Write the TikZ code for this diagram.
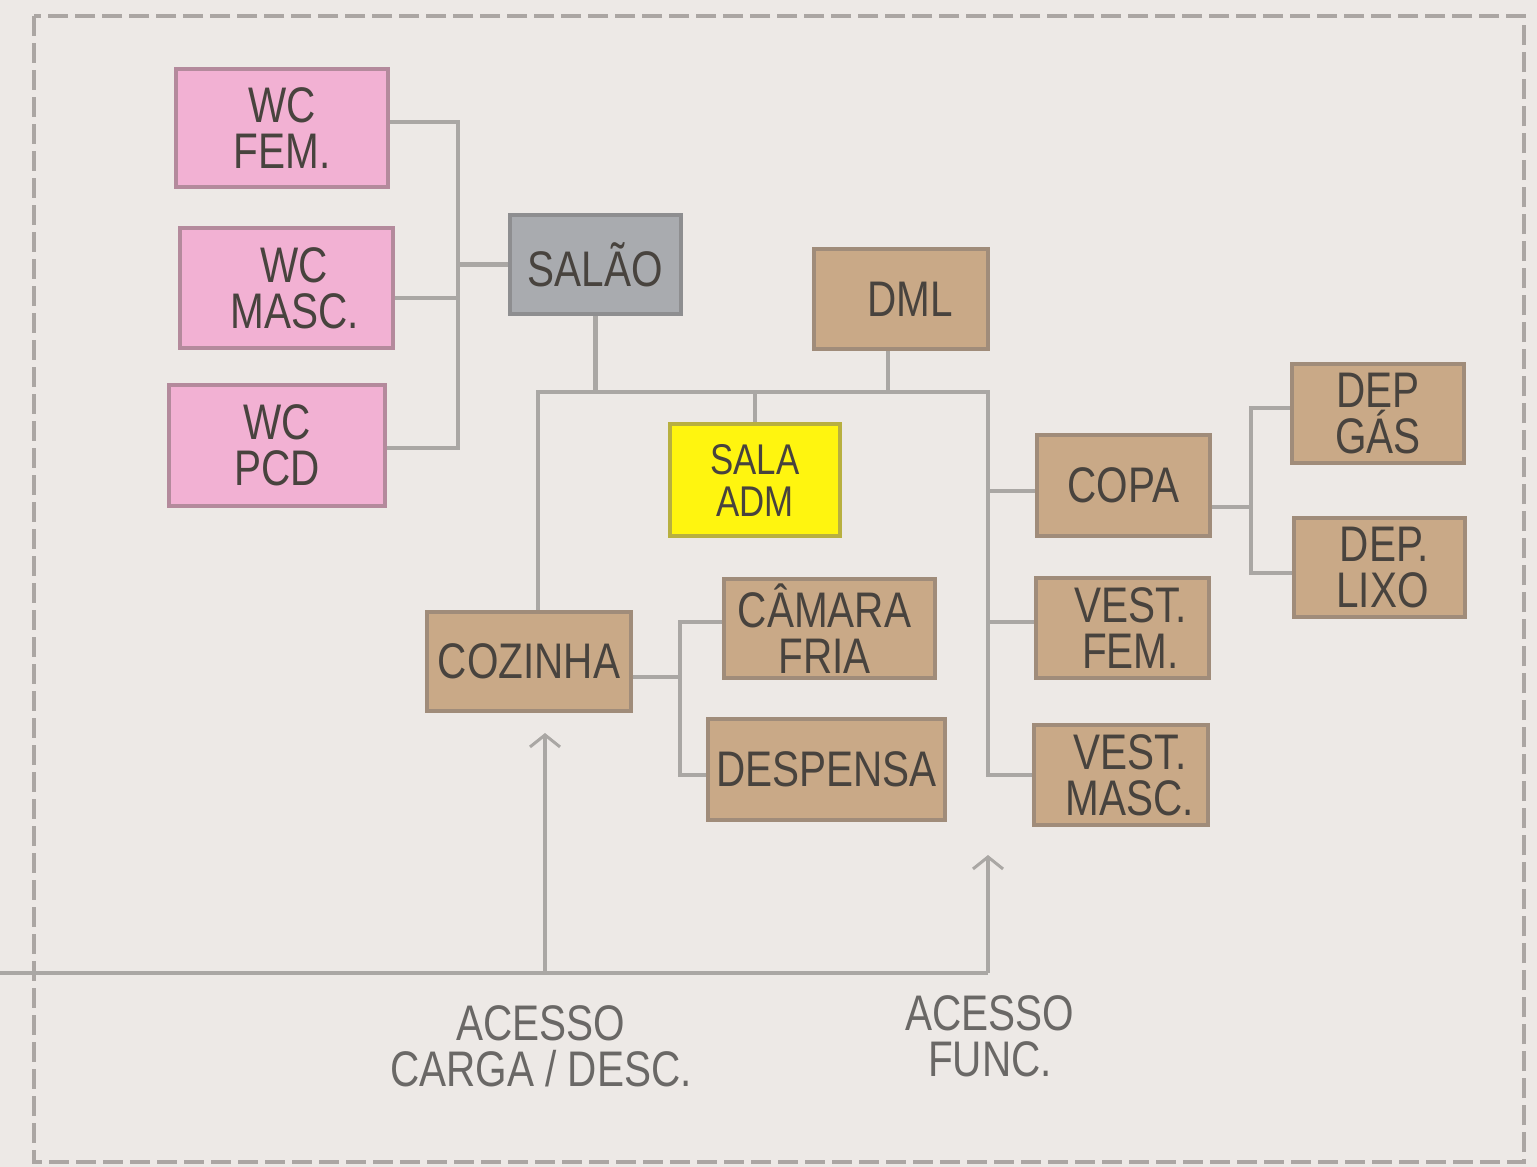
\documentclass[tikz,border=0pt]{standalone}
\usepackage{fontspec}
\setmainfont[FakeStretch=0.81]{Liberation Sans}
\usetikzlibrary{arrows.meta}
\definecolor{bgc}{HTML}{EDE9E6}
\definecolor{borderc}{HTML}{ABA6A3}
\definecolor{connc}{HTML}{AAA7A4}
\definecolor{pinkF}{HTML}{F2B1D3}
\definecolor{pinkD}{HTML}{B48A9C}
\definecolor{grayF}{HTML}{A9ABAF}
\definecolor{grayD}{HTML}{8E8E90}
\definecolor{tanF}{HTML}{C9A987}
\definecolor{tanD}{HTML}{A08C7A}
\definecolor{yelF}{HTML}{FFF50F}
\definecolor{yelD}{HTML}{B8B040}
\definecolor{txtc}{HTML}{48433E}
\definecolor{lblc}{HTML}{6A6866}
\newcommand{\pre}[1]{\hspace*{#1}}
\begin{document}
\begin{tikzpicture}[x=1pt,y=-1pt,
  room/.style={draw, line width=4pt, inner sep=0pt, align=center,
    font=\fontsize{50}{46}\selectfont, text=txtc},
  pinkroom/.style={room, fill=pinkF, draw=pinkD},
  grayroom/.style={room, fill=grayF, draw=grayD},
  tanroom/.style={room, fill=tanF, draw=tanD},
  yelroom/.style={room, fill=yelF, draw=yelD},
  conn/.style={draw=connc, line width=4.5pt},
  accarrow/.style={conn, -{Straight Barb[length=12pt,width=30pt,line width=3pt]}},
  lbl/.style={align=center, text=lblc, font=\fontsize{50}{46}\selectfont}]
\fill[bgc] (0,0) rectangle (1537,1167);
\useasboundingbox (0,0) rectangle (1537,1167);
\draw[borderc, line width=4pt, dash pattern=on 20pt off 7pt] (34,16) rectangle (1524,1162);

% rooms
\node[pinkroom, minimum width=212pt, minimum height=118pt] (wcfem) at (282,128) {WC\\FEM.};
\node[pinkroom, minimum width=213pt, minimum height=120pt] (wcmasc) at (286.5,288) {\pre{16pt}WC\\\pre{16pt}MASC.};
\node[pinkroom, minimum width=216pt, minimum height=121pt] (wcpcd) at (277,445.5) {WC\\PCD};
\node[grayroom, minimum width=171pt, minimum height=99pt] (salao) at (595.5,264.5) {SALÃO};
\node[tanroom, minimum width=174pt, minimum height=100pt] (dml) at (901,299) {\pre{18pt}DML};
\node[yelroom, minimum width=170pt, minimum height=112pt, font=\fontsize{43}{42}\selectfont] (sala) at (755,480) {SALA\\ADM};
\node[tanroom, minimum width=204pt, minimum height=99pt] (cozinha) at (529,661.5) {COZINHA};
\node[tanroom, minimum width=211pt, minimum height=99pt] (camara) at (829.5,628.5) {CÂMARA\pre{10pt}\\FRIA\pre{10pt}};
\node[tanroom, minimum width=237pt, minimum height=101pt] (despensa) at (826.5,769.5) {DESPENSA};
\node[tanroom, minimum width=173pt, minimum height=101pt] (copa) at (1123.5,485.5) {COPA};
\node[tanroom, minimum width=173pt, minimum height=100pt] (vestfem) at (1122.5,628) {\pre{16pt}VEST.\\\pre{16pt}FEM.};
\node[tanroom, minimum width=174pt, minimum height=100pt] (vestmasc) at (1121,775) {\pre{18pt}VEST.\\\pre{18pt}MASC.};
\node[tanroom, minimum width=172pt, minimum height=99pt] (depgas) at (1378,413.5) {DEP\\GÁS};
\node[tanroom, minimum width=171pt, minimum height=99pt] (deplixo) at (1379.5,567.5) {\pre{10pt}DEP.\\\pre{6pt}LIXO};

% junction coordinates
\coordinate (busWC) at (458,264.5);
\coordinate (kl) at (538,392);
\coordinate (kr) at (988,392);
\coordinate (cp) at (1251,507);
\coordinate (ck) at (680,677);
\coordinate (start) at (0,973);
\coordinate (acc1) at (545,973);
\coordinate (acc2) at (988,973);
\coordinate (tip1) at (545,733);
\coordinate (tip2) at (988,855);

% WC bus
\draw[conn] ([yshift=6pt]wcfem.east) -| (busWC);
\draw[conn] ([yshift=-2.5pt]wcpcd.east) -| (busWC);
\draw[conn] ([yshift=-10pt]wcmasc.east) -- ([yshift=-10pt]wcmasc.east -| busWC);
\draw[conn] (busWC) -- (salao.west);
% central bus
\draw[conn] (salao.south) -- (salao.south |- kl);
\draw[conn] (kl |- cozinha.north) -- (kl) -- (kr) -- (kr |- vestmasc.west) -- (vestmasc.west);
\draw[conn] ([xshift=-13pt]dml.south) -- ([xshift=-13pt]dml.south |- kr);
\draw[conn] (sala.north) -- (sala.north |- kr);
\draw[conn] ([yshift=-5.5pt]copa.west -| kr) -- ([yshift=-5.5pt]copa.west);
\draw[conn] ([yshift=6pt]vestfem.west -| kr) -- ([yshift=6pt]vestfem.west);
% copa branch
\draw[conn] ([yshift=-21.5pt]copa.east) -- (cp);
\draw[conn] ([yshift=5.5pt]depgas.west) -| (cp) |- ([yshift=-5.5pt]deplixo.west);
% cozinha branch
\draw[conn] ([yshift=-15.5pt]cozinha.east) -- (ck);
\draw[conn] ([yshift=6.5pt]camara.west) -| (ck) |- ([yshift=-5.5pt]despensa.west);
% access
\draw[conn] (start) -- (acc2);
\draw[accarrow] (acc1) -- (tip1);
\draw[accarrow] (acc2) -- (tip2);

\node[lbl] (lbl1) at (541,1046) {ACESSO\\CARGA / DESC.};
\node[lbl] (lbl2) at (990,1036) {ACESSO\\FUNC.};
\end{tikzpicture}
\end{document}
